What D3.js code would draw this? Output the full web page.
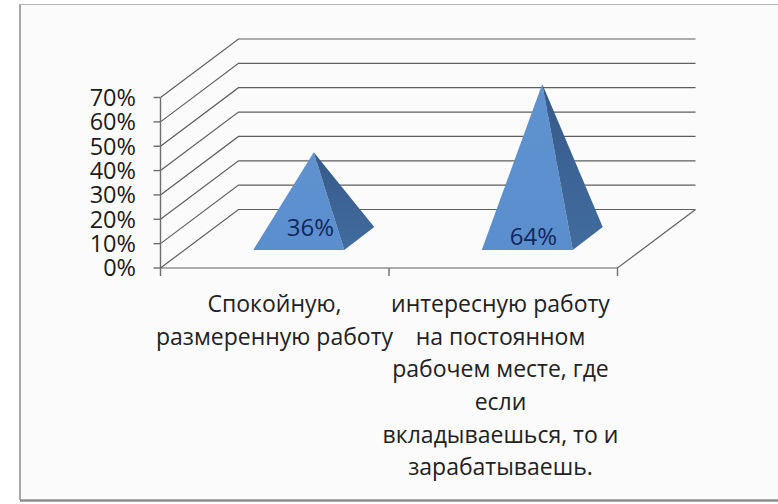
<!DOCTYPE html>
<html><head><meta charset="utf-8">
<script src="https://cdnjs.cloudflare.com/ajax/libs/d3/7.8.5/d3.min.js"></script>
<style>html,body{margin:0;padding:0;background:#fff}svg{display:block}text{font-family:"Open Sans",sans-serif}</style>
</head><body><svg id="c" width="778" height="504"></svg>
<script>
const categories = ["Спокойную, размеренную работу", "интересную работу на постоянном рабочем месте, где если вкладываешься, то и зарабатываешь."];
const categoryLines = [["Спокойную,", "размеренную работу"], ["интересную работу", "на постоянном", "рабочем месте, где", "если", "вкладываешься, то и", "зарабатываешь."]];
const values = [36, 64];
const valueLabels = ["36%", "64%"];
const yTicks = [0, 10, 20, 30, 40, 50, 60, 70];

const svg = d3.select("#c");
const y = d3.scaleLinear().domain([0, 70]).range([268, 97.5]);
const x = d3.scaleBand().domain(categories).range([160.5, 617.5]);
const depth = {dx: 78, dy: -58.5};
const tickCol = "#6e6e6e";

svg.append("rect").attr("x", 20).attr("y", 4).attr("width", 758).attr("height", 496).attr("fill", "#fbfbfb");
svg.append("line").attr("x1", 20).attr("x2", 20).attr("y1", 4).attr("y2", 500).attr("stroke", "#8a8a8a").attr("stroke-width", 1.5);
svg.append("line").attr("x1", 20).attr("x2", 778).attr("y1", 4.5).attr("y2", 4.5).attr("stroke", "#b5b5b5").attr("stroke-width", 1.2);
svg.append("line").attr("x1", 20).attr("x2", 778).attr("y1", 500.5).attr("y2", 500.5).attr("stroke", "#8f8f8f").attr("stroke-width", 2.5);

const [x0, x1] = x.range();
const grid = svg.append("g").attr("fill", "none").attr("stroke", "#5f5f5f").attr("stroke-width", 1.2);
yTicks.forEach(t => {
  grid.append("path").attr("d", d3.line()([[x0, y(t)], [x0 + depth.dx, y(t) + depth.dy], [x1 + depth.dx, y(t) + depth.dy]]));
});
grid.append("path").attr("d", d3.line()([[x0, y(0)], [x1, y(0)], [x1 + depth.dx, y(0) + depth.dy]]));

const axis = svg.append("g").attr("stroke", tickCol).attr("stroke-width", 1.4);
axis.append("line").attr("x1", x0).attr("x2", x0).attr("y1", y(70)).attr("y2", y(0));
yTicks.forEach(t => axis.append("line").attr("x1", x0 - 7).attr("x2", x0).attr("y1", y(t)).attr("y2", y(t)));
[x0, x0 + x.bandwidth(), x1].forEach(v => axis.append("line").attr("x1", v).attr("x2", v).attr("y1", y(0)).attr("y2", y(0) + 8));

svg.append("g").selectAll("text").data(yTicks).join("text")
  .attr("x", 136).attr("y", d => y(d)).attr("dy", "0.36em").attr("text-anchor", "end")
  .attr("font-size", 23.5).attr("fill", "#1c1c1c").text(d => d + "%");

const defs = svg.append("defs");
const g1 = defs.append("linearGradient").attr("id", "front").attr("x1", 0).attr("x2", 0).attr("y1", 0).attr("y2", 1);
g1.append("stop").attr("offset", 0).attr("stop-color", "#6092d0");
g1.append("stop").attr("offset", 1).attr("stop-color", "#5b8ecd");
const g2 = defs.append("linearGradient").attr("id", "side").attr("x1", 0).attr("x2", 0).attr("y1", 0).attr("y2", 1);
g2.append("stop").attr("offset", 0).attr("stop-color", "#355a88");
g2.append("stop").attr("offset", 1).attr("stop-color", "#426c9f");

const halfW = 45.5, baseDx = 30, baseFront = 18, baseBack = 41, apexLift = 28;
values.forEach((v, i) => {
  const cx = x(categories[i]) + x.bandwidth() / 2 + depth.dx / 2;
  const apex = [cx, y(v) - apexLift];
  const fl = [cx - baseDx / 2 - halfW, y(0) - baseFront];
  const fr = [cx - baseDx / 2 + halfW, y(0) - baseFront];
  const br = [cx + baseDx / 2 + halfW, y(0) - baseBack];
  svg.append("path").attr("d", d3.line()([apex, fl, fr]) + "Z").attr("fill", "url(#front)");
  svg.append("path").attr("d", d3.line()([apex, fr, br]) + "Z").attr("fill", "url(#side)");
});

const labelPos = [[310.5, 227], [533.5, 236]];
svg.append("g").selectAll("text").data(values).join("text")
  .attr("x", (d, i) => labelPos[i][0]).attr("y", (d, i) => labelPos[i][1]).attr("dy", "0.36em")
  .attr("text-anchor", "middle").attr("font-size", 24).attr("fill", "#14275c").text((d, i) => valueLabels[i]);

const catX = [274.5, 500.5];
const lineH = 32.6;
categoryLines.forEach((lines, i) => {
  svg.append("g").selectAll("text").data(lines).join("text")
    .attr("x", catX[i]).attr("y", (d, k) => 304 + k * lineH).attr("dy", "0.36em")
    .attr("text-anchor", "middle").attr("font-size", 23).attr("fill", "#222").text(d => d);
});
</script></body></html>
